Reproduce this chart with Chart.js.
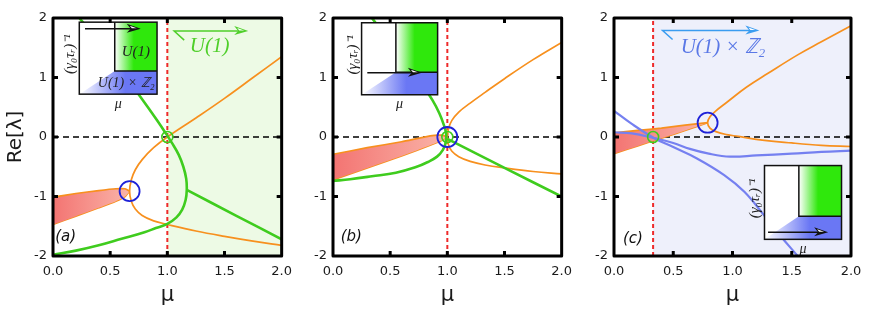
<!DOCTYPE html>
<html>
<head>
<meta charset="utf-8">
<script src="https://cdn.jsdelivr.net/npm/chart.js@4/dist/chart.umd.min.js"></script>
<style>
  html, body { margin: 0; padding: 0; background: #fff; }
  #wrap { position: relative; width: 883px; height: 311px; overflow: hidden; }
  #wrap canvas { position: absolute; top: 0; }
</style>
</head>
<body>
<div id="wrap">
  <canvas id="pa" width="300" height="311" style="left:0px"></canvas>
  <canvas id="pb" width="290" height="311" style="left:290px"></canvas>
  <canvas id="pc" width="312" height="311" style="left:571px"></canvas>
</div>
<script>
// axis ranges
var muRange = [0, 2];
var reRange = [-2, 2];

//========== panel (a)  [mu, Re(lambda)]
var aFillTop    = [[0,-1.01],[0.2,-0.95],[0.4,-0.9],[0.55,-0.87],[0.63,-0.87],[0.67,-0.91]];
var aFillBottom = [[0,-1.47],[0.2,-1.33],[0.4,-1.19],[0.55,-1.08],[0.63,-1.0],[0.67,-0.91]];
// orange pair, drawn as one arc through the branch point
var aOrange     = [[2.0,1.35],[1.75,1.0],[1.5,0.65],[1.25,0.32],[1.0,0],[0.88,-0.18],[0.78,-0.38],[0.72,-0.55],[0.685,-0.72],[0.67,-0.91],
                   [0.685,-1.08],[0.72,-1.21],[0.78,-1.32],[0.88,-1.41],[1.0,-1.47],[1.25,-1.58],[1.5,-1.67],[1.75,-1.75],[2.0,-1.82]];
var aGreenFold  = [[0.23,2.0],[0.37,1.68],[0.5,1.36],[0.62,1.05],[0.74,0.74],[0.83,0.5],[0.91,0.28],[0.98,0.08],[1.04,-0.1],[1.1,-0.3],[1.14,-0.5],[1.165,-0.7],[1.17,-0.89],
                   [1.16,-1.06],[1.13,-1.22],[1.08,-1.35],[1.0,-1.46],[0.9,-1.53],[0.8,-1.6],[0.6,-1.71],[0.4,-1.82],[0.2,-1.91],[0,-1.98]];
var aGreenLine  = [[1.17,-0.89],[1.6,-1.32],[2.0,-1.72]];
var aBlueRing   = [[0.67,-0.91]];
var aGreenRing  = [[1.0,0]];
var aCritMu = 1.0;

//========== panel (b)
var bFillTop    = [[0,-0.29],[0.3,-0.18],[0.6,-0.08],[0.85,0.02],[0.95,0.03],[1.0,0]];
var bFillBottom = [[0,-0.72],[0.3,-0.52],[0.6,-0.32],[0.85,-0.14],[0.95,-0.06],[1.0,0]];
var bOrange     = [[2.0,1.59],[1.75,1.3],[1.5,0.98],[1.33,0.75],[1.2,0.57],[1.1,0.42],[1.04,0.28],[1.01,0.14],[1.0,0],
                   [1.01,-0.13],[1.04,-0.24],[1.1,-0.33],[1.2,-0.41],[1.33,-0.47],[1.5,-0.52],[1.75,-0.58],[2.0,-0.62]];
var bGreenFold  = [[0.34,2.0],[0.5,1.6],[0.65,1.2],[0.78,0.88],[0.87,0.62],[0.93,0.4],[0.97,0.2],[0.99,0.05],[0.985,-0.1],[0.96,-0.22],
                   [0.91,-0.33],[0.83,-0.42],[0.72,-0.51],[0.55,-0.6],[0.34,-0.66],[0.15,-0.71],[0,-0.74]];
var bGreenLine  = [[1.0,-0.03],[1.5,-0.52],[2.0,-1.0]];
var bBlueRing   = [[1.0,0]];
var bGreenRing  = [[1.0,0]];
var bCritMu = 1.0;

//========== panel (c)
var cFillTop    = [[0,0.07],[0.2,0.11],[0.4,0.15],[0.6,0.2],[0.79,0.24]];
var cFillBottom = [[0,-0.28],[0.2,-0.15],[0.4,-0.02],[0.6,0.11],[0.79,0.24]];
var cOrange     = [[2.0,1.87],[1.75,1.6],[1.55,1.38],[1.3,1.07],[1.12,0.84],[0.95,0.58],[0.86,0.44],[0.81,0.34],[0.79,0.24],
                   [0.81,0.15],[0.86,0.09],[0.95,0.04],[1.05,0.01],[1.2,-0.04],[1.5,-0.1],[1.75,-0.14],[2.0,-0.16]];
var cBlueSteep  = [[0,0.44],[0.15,0.22],[0.34,-0.02],[0.5,-0.17],[0.7,-0.36],[0.93,-0.64],[1.1,-0.92],[1.26,-1.3],[1.4,-1.65],[1.55,-2.0]];
var cBlueFlat   = [[0,0.08],[0.15,0.06],[0.34,-0.02],[0.5,-0.1],[0.64,-0.2],[0.8,-0.28],[0.98,-0.33],[1.2,-0.31],[1.5,-0.28],[1.75,-0.25],[2.0,-0.23]];
var cBlueRing   = [[0.79,0.24]];
var cGreenRing  = [[0.33,0]];
var cCritMu = 0.33;

var ORANGE = '#f7901e';
var GREEN = '#3fcc1e';
var BLUE = '#7580f0';
var RING = '#1e22d8';

function pts(arr) {
    return arr.map(function (p) { return { x: p[0], y: p[1] }; });
}

function curve(arr, color, width, tension) {
    return { data: pts(arr), showLine: true, borderColor: color, borderWidth: width, tension: tension, fill: false, pointRadius: 0 };
}

function ring(arr, color, r, w) {
    return {
        data: pts(arr), showLine: false, pointRadius: r, pointHoverRadius: r,
        pointBorderColor: color, borderColor: color, pointBorderWidth: w,
        pointBackgroundColor: 'rgba(0,0,0,0)', backgroundColor: 'rgba(0,0,0,0)'
    };
}

function redFill(tipMu) {
    return function (ctx) {
        var chart = ctx.chart;
        if (!chart.chartArea) return '#f47c7a';
        var xs = chart.scales.x;
        var g = chart.ctx.createLinearGradient(xs.getPixelForValue(0), 0, xs.getPixelForValue(tipMu), 0);
        g.addColorStop(0, '#f37472');
        g.addColorStop(1, '#fab4a8');
        return g;
    };
}

function buildDatasets(p) {
    var ds = [];
    ds.push(ring(p.blueRing, RING, 10, 1.8));
    ds.push(ring(p.greenRing, GREEN, 5.5, 1.6));
    p.lines.forEach(function (l) { ds.push(curve(l[0], l[1], l[2], 0.4)); });
    ds.push(curve(p.orange, ORANGE, 1.7, 0.4));
    var top = curve(p.fillTop, ORANGE, 1.7, 0.2);
    top.fill = '+1';
    top.backgroundColor = redFill(p.fillTop[p.fillTop.length - 1][0]);
    ds.push(top);
    ds.push(curve(p.fillBottom, ORANGE, 1.7, 0.2));
    // zero line
    ds.push({ data: pts([[muRange[0], 0], [muRange[1], 0]]), showLine: true, borderColor: '#000', borderWidth: 1.6, borderDash: [6, 4], pointRadius: 0 });
    // critical mu
    ds.push({ data: pts([[p.crit, reRange[0]], [p.crit, reRange[1]]]), showLine: true, borderColor: '#ee2a2a', borderWidth: 2, borderDash: [4, 3], pointRadius: 0 });
    // shaded phase
    ds.push({ data: pts([[p.crit, reRange[1]], [muRange[1], reRange[1]]]), showLine: true, borderWidth: 0, borderColor: 'rgba(0,0,0,0)', pointRadius: 0, fill: { value: reRange[0] }, backgroundColor: p.shade });
    return ds;
}

function arrowHead(ctx, x, y, color) {
    ctx.fillStyle = color;
    ctx.beginPath();
    ctx.moveTo(x + 2, y);
    ctx.lineTo(x - 12, y - 5);
    ctx.lineTo(x - 8, y);
    ctx.lineTo(x - 12, y + 4);
    ctx.closePath();
    ctx.fill();
    ctx.fillStyle = '#fff';
    ctx.beginPath();
    ctx.moveTo(x - 2, y - 0.5);
    ctx.lineTo(x - 9, y - 3);
    ctx.lineTo(x - 7, y - 0.5);
    ctx.closePath();
    ctx.fill();
}

function drawInset(chart, b) {
    var ctx = chart.ctx, xs = chart.scales.x, ys = chart.scales.y;
    var L = xs.getPixelForValue(b.x0), R = xs.getPixelForValue(b.x1);
    var T = ys.getPixelForValue(b.y1), B = ys.getPixelForValue(b.y0);
    var V = xs.getPixelForValue(b.xd), H = ys.getPixelForValue(b.yd);
    ctx.save();
    ctx.fillStyle = '#fff';
    ctx.fillRect(L, T, R - L, B - T);
    var g = ctx.createLinearGradient(V, 0, V + (R - V) * 0.45, 0);
    g.addColorStop(0, '#ffffff');
    g.addColorStop(1, '#2fe80c');
    ctx.fillStyle = g;
    ctx.fillRect(V, T, R - V, H - T);
    g = ctx.createLinearGradient(L, 0, V + (R - V) * 0.25, 0);
    g.addColorStop(0, '#ffffff');
    g.addColorStop(1, '#6a77f4');
    ctx.fillStyle = g;
    ctx.beginPath();
    ctx.moveTo(L, B); ctx.lineTo(V, H); ctx.lineTo(R, H); ctx.lineTo(R, B);
    ctx.closePath();
    ctx.fill();
    ctx.strokeStyle = '#111';
    ctx.lineWidth = 1.5;
    ctx.strokeRect(L, T, R - L, B - T);
    ctx.beginPath();
    ctx.moveTo(V, T); ctx.lineTo(V, H); ctx.lineTo(R, H);
    ctx.stroke();
    // arrow
    var ay = ys.getPixelForValue(b.ay), ax0 = xs.getPixelForValue(b.ax0), ax1 = xs.getPixelForValue(b.ax1);
    ctx.beginPath();
    ctx.moveTo(ax0, ay); ctx.lineTo(ax1 - 6, ay);
    ctx.stroke();
    arrowHead(ctx, ax1, ay, '#111');
    // texts
    ctx.fillStyle = '#222';
    ctx.textAlign = 'center';
    ctx.textBaseline = 'middle';
    if (b.labels) {
        ctx.font = 'italic 15px "Liberation Serif"';
        ctx.fillText('U(1)', (V + R) / 2, T + (H - T) * 0.62);
        ctx.font = 'italic 14px "Liberation Serif"';
        ctx.fillText('U(1) × ℤ₂', (L + R) / 2 + 8, (H + B) / 2 + 1);
    }
    ctx.font = 'italic 14px "Liberation Serif"';
    ctx.fillText('μ', (L + R) / 2, B + 10);
    ctx.translate(L - 9, (T + B) / 2 - 4);
    ctx.rotate(-Math.PI / 2);
    ctx.font = 'italic 15px "Liberation Serif"';
    ctx.fillText('(γ₀τᵣ)⁻¹', 0, 0);
    ctx.restore();
}

function drawTag(chart, t) {
    var ctx = chart.ctx, xs = chart.scales.x, ys = chart.scales.y;
    var x0 = xs.getPixelForValue(t.ax0), x1 = xs.getPixelForValue(t.ax1), y = ys.getPixelForValue(t.ay);
    ctx.save();
    ctx.strokeStyle = t.arrowColor;
    ctx.lineWidth = 1.5;
    ctx.beginPath();
    ctx.moveTo(x0 + 10, y + 9); ctx.lineTo(x0, y); ctx.lineTo(x1 - 6, y);
    ctx.stroke();
    arrowHead(ctx, x1, y, t.arrowColor);
    ctx.fillStyle = t.color;
    ctx.font = 'italic 21px "Liberation Serif"';
    ctx.textAlign = 'center';
    ctx.textBaseline = 'middle';
    ctx.fillText(t.text, xs.getPixelForValue(t.tx), ys.getPixelForValue(t.ty));
    ctx.restore();
}

var decorPlugin = {
    id: 'decor',
    afterDatasetsDraw: function (chart) {
        var p = chart.config.options.plugins.decor;
        var xs = chart.scales.x, ys = chart.scales.y, ctx = chart.ctx;
        drawInset(chart, p.inset);
        if (p.tag) drawTag(chart, p.tag);
        ctx.save();
        ctx.fillStyle = '#111';
        ctx.font = 'italic 15px "DejaVu Sans"';
        ctx.textAlign = 'center';
        ctx.textBaseline = 'middle';
        ctx.fillText(p.name, xs.getPixelForValue(p.nameAt[0]), ys.getPixelForValue(p.nameAt[1]));
        ctx.restore();
    },
    afterDraw: function (chart) {
        var a = chart.chartArea, ctx = chart.ctx;
        var xs = chart.scales.x, ys = chart.scales.y;
        ctx.save();
        ctx.strokeStyle = '#000';
        ctx.lineWidth = 3;
        ctx.lineJoin = 'round';
        ctx.beginPath();
        xs.ticks.forEach(function (t) {
            if (t.value <= muRange[0] || t.value >= muRange[1]) return;
            var x = xs.getPixelForValue(t.value);
            ctx.moveTo(x, a.bottom); ctx.lineTo(x, a.bottom - 5);
            ctx.moveTo(x, a.top); ctx.lineTo(x, a.top + 5);
        });
        ys.ticks.forEach(function (t) {
            if (t.value <= reRange[0] || t.value >= reRange[1]) return;
            var y = ys.getPixelForValue(t.value);
            ctx.moveTo(a.left, y); ctx.lineTo(a.left + 5, y);
            ctx.moveTo(a.right, y); ctx.lineTo(a.right - 5, y);
        });
        ctx.stroke();
        ctx.strokeRect(a.left, a.top, a.right - a.left, a.bottom - a.top);
        ctx.restore();
    }
};

function makePanel(id, p) {
    new Chart(document.getElementById(id), {
        type: 'scatter',
        data: { datasets: buildDatasets(p) },
        plugins: [decorPlugin],
        options: {
            responsive: false,
            animation: false,
            events: [],
            layout: { padding: { top: 18, right: p.padRight, left: 0, bottom: 0 } },
            elements: { point: { radius: 0 } },
            plugins: {
                legend: { display: false },
                tooltip: { enabled: false },
                decor: p.decor
            },
            scales: {
                x: {
                    type: 'linear', min: muRange[0], max: muRange[1],
                    grid: { display: false, drawTicks: false },
                    border: { display: false },
                    ticks: { stepSize: 0.5, padding: 8, color: '#1a1a1a', font: { family: 'DejaVu Sans', size: 13 }, callback: function (v) { return v.toFixed(1); } },
                    title: { display: true, text: 'μ', color: '#1a1a1a', font: { family: 'DejaVu Sans', size: 21 }, padding: { top: 0, bottom: 3 } },
                    afterFit: function (s) { s.height = 55; }
                },
                y: {
                    type: 'linear', min: reRange[0], max: reRange[1],
                    grid: { display: false, drawTicks: false },
                    border: { display: false },
                    ticks: { stepSize: 1, padding: 6, color: '#1a1a1a', font: { family: 'DejaVu Sans', size: 13 } },
                    title: { display: p.yTitle, text: 'Re[λ]', color: '#1a1a1a', font: { family: 'DejaVu Sans', size: 20 }, padding: { top: 4, bottom: 0 } },
                    afterFit: function (s) { s.width = p.yWidth; }
                }
            }
        }
    });
}

makePanel('pa', {
    yWidth: 53, padRight: 12, yTitle: true, crit: aCritMu, shade: '#edfae5',
    fillTop: aFillTop, fillBottom: aFillBottom, orange: aOrange,
    lines: [[aGreenFold, GREEN, 2.6], [aGreenLine, GREEN, 2.6]],
    blueRing: aBlueRing, greenRing: aGreenRing,
    decor: {
        name: '(a)', nameAt: [0.11, -1.68],
        inset: { x0: 0.23, x1: 0.91, y0: 0.72, y1: 1.93, xd: 0.54, yd: 1.11, ay: 1.82, ax0: 0.28, ax1: 0.75, labels: true },
        tag: { text: 'U(1)', color: '#4fcf2a', arrowColor: '#4fcf2a', ax0: 1.06, ax1: 1.69, ay: 1.78, tx: 1.37, ty: 1.52 }
    }
});

makePanel('pb', {
    yWidth: 43, padRight: 10, yTitle: false, crit: bCritMu, shade: 'rgba(0,0,0,0)',
    fillTop: bFillTop, fillBottom: bFillBottom, orange: bOrange,
    lines: [[bGreenFold, GREEN, 2.6], [bGreenLine, GREEN, 2.6]],
    blueRing: bBlueRing, greenRing: bGreenRing,
    decor: {
        name: '(b)', nameAt: [0.16, -1.68],
        inset: { x0: 0.25, x1: 0.915, y0: 0.71, y1: 1.92, xd: 0.55, yd: 1.09, ay: 1.08, ax0: 0.3, ax1: 0.76, labels: false },
        tag: null
    }
});

makePanel('pc', {
    yWidth: 43, padRight: 32, yTitle: false, crit: cCritMu, shade: '#eef0fb',
    fillTop: cFillTop, fillBottom: cFillBottom, orange: cOrange,
    lines: [[cBlueSteep, BLUE, 2.2], [cBlueFlat, BLUE, 2.2]],
    blueRing: cBlueRing, greenRing: cGreenRing,
    decor: {
        name: '(c)', nameAt: [0.16, -1.72],
        inset: { x0: 1.27, x1: 1.92, y0: -1.72, y1: -0.48, xd: 1.56, yd: -1.33, ay: -1.6, ax0: 1.3, ax1: 1.79, labels: false },
        tag: { text: 'U(1) × ℤ₂', color: '#5a78e6', arrowColor: '#3a9cf0', ax0: 0.41, ax1: 1.21, ay: 1.79, tx: 0.92, ty: 1.5 }
    }
});
</script>
</body>
</html>
